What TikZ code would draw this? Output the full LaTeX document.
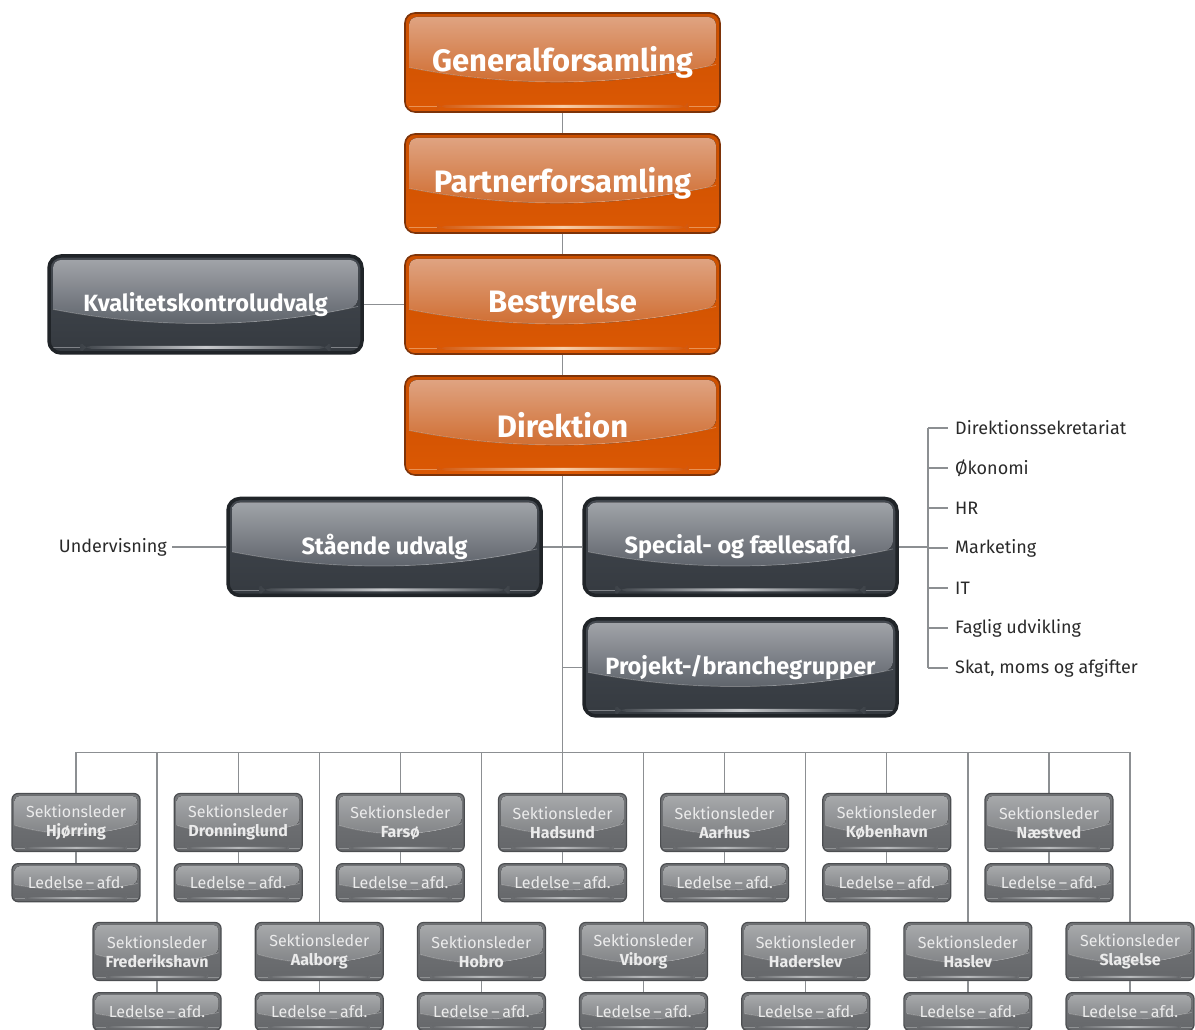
\documentclass[tikz,border=0pt]{standalone}
\usepackage{fontspec}
\setmainfont{Fira Sans}
\usetikzlibrary{calc,positioning}

\definecolor{oborder}{HTML}{7D3309}
\definecolor{otop}{HTML}{CC5000}
\definecolor{obot}{HTML}{DB5804}
\definecolor{oglossA}{HTML}{DFA381}
\definecolor{oglossB}{HTML}{CF6A2C}
\definecolor{oband}{HTML}{D2570C}
\definecolor{ohigh}{HTML}{F8CDA6}
\definecolor{dborder}{HTML}{202428}
\definecolor{dtop}{HTML}{444950}
\definecolor{dbot}{HTML}{353A40}
\definecolor{dglossA}{HTML}{A0A3A8}
\definecolor{dglossB}{HTML}{5A5F67}
\definecolor{dband}{HTML}{3D4248}
\definecolor{dhigh}{HTML}{C8CACD}
\definecolor{gborder}{HTML}{4C4E51}
\definecolor{gtop}{HTML}{747679}
\definecolor{gbot}{HTML}{65676A}
\definecolor{gglossA}{HTML}{A7A9AB}
\definecolor{gglossB}{HTML}{7F8184}
\definecolor{gband}{HTML}{696B6E}
\definecolor{ghigh}{HTML}{B8BABC}
\definecolor{linegrey}{HTML}{8C8F92}
\definecolor{listtext}{HTML}{2A2A2A}

% glossy top half and bright band at the bottom of a box
\newcommand\glosspic[5]{%
  \path (path picture bounding box.south west) coordinate (ppsw)
        (path picture bounding box.north east) coordinate (ppne);
  \fill[top color=#1, bottom color=#2]
    let \p1=(ppsw), \p2=(ppne), \n1={\x2-\x1}, \n2={\y2-\y1} in
    (\x1+#5,{\y1+0.45*\n2}) [rounded corners=2*#5] -- (\x1+#5,\y2-#5) -- (\x2-#5,\y2-#5)
    -- (\x2-#5,{\y1+0.48*\n2}) [sharp corners]
    .. controls ({\x2-0.33*\n1},{\y1+0.25*\n2}) and ({\x1+0.33*\n1},{\y1+0.25*\n2}) .. (\x1+#5,{\y1+0.45*\n2}) -- cycle;
  \draw[white, opacity=.3, line width=.7pt]
    let \p1=(ppsw), \p2=(ppne), \n1={\x2-\x1}, \n2={\y2-\y1} in
    (\x2-#5,{\y1+0.48*\n2})
    .. controls ({\x2-0.33*\n1},{\y1+0.25*\n2}) and ({\x1+0.33*\n1},{\y1+0.25*\n2}) .. (\x1+#5,{\y1+0.45*\n2});
  \shade[left color=#3, right color=#3, middle color=#4]
    let \p1=(ppsw), \p2=(ppne), \n1={\x2-\x1} in
    ({\x1+0.1*\n1},\y1+#5) rectangle ({\x2-0.1*\n1},\y1+1.8*#5);
  \draw[#4, opacity=.5, line width=.5pt]
    let \p1=(ppsw), \p2=(ppne), \n1={\x2-\x1} in
    (\x1+#5,\y1+1.4*#5) -- ({\x1+0.1*\n1},\y1+1.4*#5)
    ({\x2-0.1*\n1},\y1+1.4*#5) -- (\x2-#5,\y1+1.4*#5);
}

\tikzset{
  orangebox/.style={rounded corners=10pt, draw=oborder, line width=1.6pt,
    top color=otop, bottom color=obot, minimum width=315pt, minimum height=99pt,
    inner sep=0pt, text=white, font=\fontsize{31}{35}\selectfont\bfseries,
    path picture={\glosspic{oglossA}{oglossB}{oband}{ohigh}{4pt}}},
  darkbox/.style={rounded corners=12pt, draw=dborder, line width=3.5pt,
    top color=dtop, bottom color=dbot, minimum width=313pt, minimum height=97pt,
    inner sep=0pt, text=white, font=\fontsize{23.5}{27}\selectfont\bfseries,
    path picture={\glosspic{dglossA}{dglossB}{dband}{dhigh}{4pt}}},
  sektion/.style={rounded corners=6pt, draw=gborder, line width=1.2pt,
    top color=gtop, bottom color=gbot, minimum width=128pt, minimum height=58pt,
    inner sep=0pt, text=white!92!black, align=center,
    font=\fontsize{16}{19}\selectfont,
    path picture={\glosspic{gglossA}{gglossB}{gband}{ghigh}{2.5pt}}},
  ledelse/.style={sektion, minimum height=38pt},
  listitem/.style={anchor=west, inner sep=0pt, text=listtext,
    font=\fontsize{18}{21}\selectfont},
  conn/.style={draw=linegrey, line width=1.7pt},
  thinconn/.style={draw=linegrey, line width=1.3pt}
}

\begin{document}
\begin{tikzpicture}[x=1pt, y=1pt]
\useasboundingbox (0,0) rectangle (1195,1030);

% top chain
\node[orangebox] (gen) at (562.5,967.5) {Generalforsamling};
\node[orangebox] (partner) at (562.5,846.5) {Partnerforsamling};
\node[orangebox] (bestyrelse) at (562.5,725.5) {Bestyrelse};
\node[orangebox] (direktion) at (562.5,604.5) {Direktion};

\node[darkbox] (kvalitet) at (205.5,725.5) {Kvalitetskontroludvalg};
\node[darkbox] (staaende) at (384.5,483) {Stående udvalg};
\node[darkbox] (special) at (740.5,483) {Special- og fællesafd.};
\node[darkbox] (projekt) at (740.5,362.5) {Projekt-/branchegrupper};

\node[listitem, anchor=east, inner sep=5pt] (undervisning) at (172,483) {Undervisning};

\coordinate (busmid) at (562.5,277.5);
\coordinate (listbar) at (928,483);

% right hand list
\foreach \item [count=\k from 0] in {Direktionssekretariat,Økonomi,HR,Marketing,IT,Faglig udvikling,{Skat, moms og afgifter}}{
  \node[listitem] (l\k) at (955,{602-40*\k}) {\item};
}

\draw[conn] (gen) -- (partner);
\draw[conn] (partner) -- (bestyrelse);
\draw[conn] (bestyrelse) -- (direktion);
\draw[conn] (kvalitet) -- (bestyrelse);
\draw[conn] (direktion) -- (busmid);
\draw[conn] (staaende) -- (special);
\draw[conn] (projekt.west) -- (projekt.west -| busmid);
\draw[conn] (undervisning) -- (staaende);
\draw[conn] (special) -- (listbar);
\draw[thinconn] (l0.west -| listbar) -- (l6.west -| listbar);
\foreach \k in {0,...,6}
  \draw[thinconn] (l\k.west -| listbar) -- ([xshift=-7pt]l\k.west);

% sections
\foreach \city [count=\i from 0] in {Hjørring,Frederikshavn,Dronninglund,Aalborg,Farsø,Hobro,Hadsund,Viborg,Aarhus,Haderslev,København,Haslev,Næstved,Slagelse}{
  \pgfmathsetmacro\xx{76+81.08*\i}
  \pgfmathsetmacro\yy{mod(\i,2)==0 ? 207.5 : 78.5}
  \draw[thinconn] (\xx,277.5) -- (\xx,\yy);
  \node[sektion] (s\i) at (\xx,\yy) {Sektionsleder\\\textbf{\city}};
  \node[ledelse, below=11pt of s\i] (a\i) {Ledelse\,–\,afd.};
  \draw[thinconn] (s\i) -- (a\i);
}
\draw[thinconn] (s0.north |- busmid) -- (s13.north |- busmid);
\end{tikzpicture}
\end{document}
